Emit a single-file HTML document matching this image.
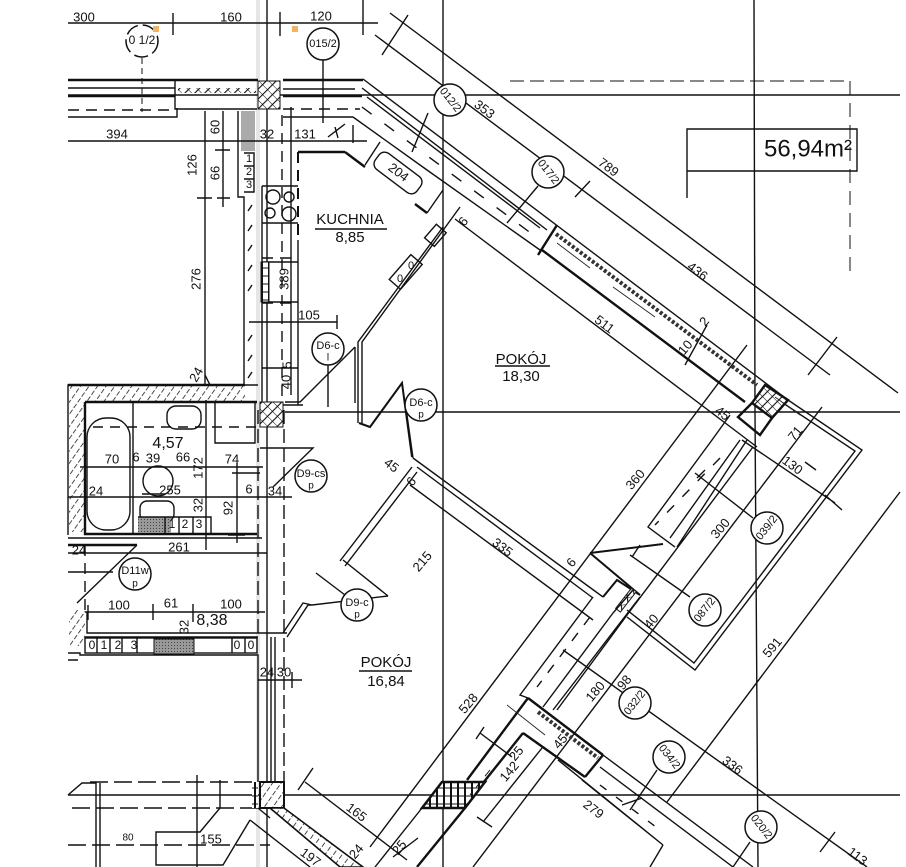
<!DOCTYPE html>
<html><head><meta charset="utf-8"><style>
html,body{margin:0;padding:0;background:#fff}
svg{display:block}
text{font-family:"Liberation Sans",sans-serif;font-size:13px;fill:#111;text-anchor:middle;dominant-baseline:middle}
.l{fill:none;stroke:#111;stroke-width:1.4}
.t{fill:none;stroke:#111;stroke-width:2.4}
.f{fill:none;stroke:#222;stroke-width:.9}
.d{fill:none;stroke:#111;stroke-width:1.4;stroke-dasharray:11 7}
.c{fill:#fff;stroke:#111;stroke-width:1.5}
</style></head><body>
<svg width="906" height="867" viewBox="0 0 906 867" xmlns="http://www.w3.org/2000/svg">
<defs>
<pattern id="h" width="7" height="7" patternUnits="userSpaceOnUse" patternTransform="rotate(35)"><rect width="7" height="7" fill="#fff"/><line x1="0" y1="0" x2="0" y2="7" stroke="#111" stroke-width="1.5" stroke-dasharray="5 2"/></pattern>
<pattern id="x" width="7" height="7" patternUnits="userSpaceOnUse" patternTransform="rotate(45)"><rect width="7" height="7" fill="#fff"/><line x1="0" y1="0" x2="0" y2="7" stroke="#111" stroke-width="2.2"/><line x1="0" y1="0" x2="7" y2="0" stroke="#111" stroke-width="1"/></pattern>
<pattern id="v" width="7" height="8" patternUnits="userSpaceOnUse"><rect width="7" height="8" fill="#fff"/><line x1="3" y1="0" x2="3" y2="8" stroke="#111" stroke-width="2"/><line x1="0" y1="4" x2="7" y2="4" stroke="#111" stroke-width="1"/></pattern>
<pattern id="g" width="3" height="3" patternUnits="userSpaceOnUse"><rect width="3" height="3" fill="#999"/><rect width="1" height="1" fill="#444"/></pattern>
</defs>
<rect width="906" height="867" fill="#fff"/>
<!-- scan seam -->
<rect x="256" y="0" width="4" height="867" fill="#e6e6e6"/>
<!-- axes -->
<path class="l" d="M267 0V867M443 0V867M754 0L755 412L758 867M68 95H900M285 412H900M68 795H260M284 795H900"/>
<path class="l" d="M510 81H850" style="stroke-dasharray:14 6;stroke-width:1"/>
<path class="d" d="M850 81V272" style="stroke-width:1;stroke-dasharray:14 8"/>
<!-- area box -->
<path class="l" d="M687 198V129H857V171H687"/>
<text x="808" y="150" style="font-size:24px">56,94m²</text>
<!-- top dims -->
<path class="l" d="M68 23H378M173 13V35M280 12V36M363 0V35"/>
<path class="l" d="M390 13L898 393M375 35L830 375M408 15L382 55M837 337L808 375M590 181L575 197"/>
<path class="l" d="M455 219L757 447M742 440L835 503M805 462L816 470M822 407L473 867M747 345L370 847M900 492L667 802M563 650L867 867M820 852L835 832M825 495L842 510"/>
<!-- top-left wall -->
<path class="t" d="M68 80H258M283 80H363"/>
<path class="l" d="M68 88H175M68 117H177V108M175 80V109H257M283 89H355M283 117H353"/>
<path class="t" d="M68 96H175M283 96H362"/>
<path class="d" d="M68 110H175M283 109H360"/>
<rect x="178" y="88" width="78" height="5" fill="url(#x)"/>
<path class="d" d="M142 58V112" style="stroke-dasharray:6 4;stroke-width:1"/>
<rect x="258" y="81" width="22" height="28" fill="url(#x)" stroke="#111"/>
<!-- diagonal upper wall -->
<path class="l" d="M363 79L788 400M362 88L547 230M367 97L540 228M353 117L427 170L540 250"/>
<path class="d" d="M362 107L540 240" style="stroke-dasharray:12 16"/>
<path class="t" d="M345 152H298M345 152L365 167M415 204L427 213M557 225L538 255M542 250L745 402"/>
<path class="d" d="M298 152V240" style="stroke-width:2"/>
<path class="l" d="M298 240V405"/>
<path d="M556 234L757 385" fill="none" stroke="#333" stroke-width="4" stroke-dasharray="3 2"/>
<path class="f" d="M557 243L590 268M613 287L655 317"/>
<path class="l" d="M380 142L365 165M443 190L427 213"/>
<rect x="372" y="163" width="52" height="20" rx="7" transform="rotate(37 398 173)" class="l"/>
<text x="398" y="173" transform="rotate(37 398 173)">204</text>
<!-- shaft -->
<polygon points="765,385 788,400 772,418 752,403" fill="url(#x)" stroke="#111" stroke-width="2.4"/>
<path class="t" d="M752 403L738 417L760 435L772 418"/>
<!-- vertical wall/kitchen -->
<path class="l" d="M205 111V385M238 111V197H244V385M245 385H68V535M245 385H258"/>
<rect x="241" y="111" width="14" height="40" fill="#aaa"/>
<path class="l" d="M244 153H254V192H244M244 166H254M244 179H254M262 186H298M262 223H298M262 186V405M291 107V395M262 262H298M262 302H298M262 368H298M262 405H303"/>
<path class="d" d="M282 115V405M262 258H298M262 303H298" />
<text x="249" y="159" style="font-size:11px">1</text><text x="249" y="172" style="font-size:11px">2</text><text x="249" y="185" style="font-size:11px">3</text>
<circle cx="273" cy="197" r="7" class="l"/><circle cx="289" cy="197" r="5" class="l"/><circle cx="270" cy="213" r="5" class="l"/><circle cx="289" cy="214" r="7" class="l"/>
<path d="M261 262h8v40h-8z" fill="url(#v)" stroke="#111"/>
<path d="M252 205l-4 6M252 225l-4 6M252 245l-4 6M252 265l-4 6M252 285l-4 6M252 335l-4 6M252 355l-4 6M252 372l-4 6" class="l"/>
<path class="l" d="M68 141H367M223 111V207M215 150H230M197 198H212M217 198H230M249 322H337M337 315V329M335 127L338 138M328 137L345 124M353 125V143M205 375L210 385"/>
<!-- partition kitchen / room -->
<path class="l" d="M460 207L362 342V423M443 227L358 342V423M355 347L300 402H285M355 347V403"/>
<path class="l" style="stroke-width:2" d="M359 423L370 427L402 383L412 457"/>
<rect x="389" y="265" width="33" height="15" class="l" transform="rotate(-49 405 272)" fill="#fff"/>
<text x="400" y="279" style="font-size:11px">0</text><text x="411" y="266" style="font-size:11px">0</text>
<rect x="426" y="229" width="18" height="13" class="l" transform="rotate(-49 435 235)" fill="#fff"/>
<!-- columns -->
<rect x="260" y="402" width="23" height="25" fill="url(#x)" stroke="#111"/>
<rect x="260" y="782" width="24" height="26" fill="url(#h)" stroke="#111" stroke-width="2"/>
<!-- bath -->
<rect x="69" y="385" width="176" height="17" fill="url(#h)"/>
<rect x="69" y="402" width="16" height="130" fill="url(#h)"/>
<path class="t" d="M68 385H245M85 402H257M85 402V534H257"/>
<path class="l" d="M133 402V534M206 400V550M215 403V443H255V403"/>
<rect x="87" y="418" width="43" height="112" rx="19" class="l"/>
<path class="d" d="M93 427H258" style="stroke-dasharray:10 7"/>
<rect x="167" y="406" width="34" height="23" rx="9" class="l"/>
<circle cx="158" cy="481" r="15" class="l"/>
<rect x="140" y="501" width="34" height="20" rx="7" class="l"/>
<rect x="138" y="517" width="33" height="16" fill="url(#g)"/>
<path class="l" d="M138 517H211V534M165 517V534M179 517V534M193 517V534M80 467H263M68 497H292M232 473H260M237 463V543M228 535H245M142 494H165"/>
<text x="172" y="525" style="font-size:12px">1</text><text x="185" y="525" style="font-size:12px">2</text><text x="199" y="525" style="font-size:12px">3</text>
<path class="l" d="M260 448H313L273 487"/>
<!-- corridor -->
<path class="l" d="M68 538H262"/>
<path class="t" d="M68 545H137"/>
<path class="l" d="M68 553H267M137 545L77 603M68 572H113M85 612H265M88 605V620M153 604V620M193 604V622M87 612V633H287M85 637H258M287 637L308 605H312M283 633L303 603L312 605"/>
<path class="d" d="M85 545V612"/>
<rect x="69" y="610" width="16" height="36" fill="url(#h)"/>
<rect x="85" y="638" width="172" height="15" class="l"/>
<path class="l" d="M97 638V653M110 638V653M122 638V653M137 638V653M232 638V653M245 638V653"/>
<rect x="154" y="639" width="40" height="15" fill="url(#g)" stroke="#111"/>
<text x="92" y="646" style="font-size:12px">0</text><text x="104" y="646" style="font-size:12px">1</text><text x="118" y="646" style="font-size:12px">2</text><text x="134" y="646" style="font-size:12px">3</text><text x="237" y="646" style="font-size:12px">0</text><text x="251" y="646" style="font-size:12px">0</text>
<path class="l" d="M68 653H80V655H258V782M68 660H78"/>
<!-- room left vertical walls -->
<path class="d" d="M258 410V635M284 410V782" style="stroke-dasharray:14 5"/>
<path class="l" d="M271 637V782M275 637V782M258 680H302M292 672V688"/>
<!-- lower left -->
<path class="d" d="M90 782H258M72 808H258M68 845H270" style="stroke-dasharray:18 6"/>
<path class="l" d="M68 795L82 783H96V867M100 783V867M197 775V867M220 780V808L200 832H156V865H223L250 820"/>
<rect x="252" y="782" width="6" height="26" fill="url(#v)"/>
<!-- lower left diagonal wall -->
<polygon points="270,808 284,808 363,867 340,867" fill="url(#h)" stroke="#111" stroke-width="1.6"/>
<path class="l" d="M250 820L310 867M258 808L270 818M305 782L407 860M298 790L313 768M393 857L418 838"/>
<!-- balcony / middle partition -->
<path class="l" d="M413 458L603 597M417 467L593 598M410 485L593 620M413 458L406 408M340 561L412 467M345 566L417 472M343 560L388 596M312 605L388 596M316 573L345 595"/>
<path class="l" d="M788 400L862 450L695 670L627 617M783 403L855 451L694 663L627 610"/>
<!-- upper right wall segment -->
<path class="l" d="M730 415L712 440L648 527L675 547M740 440L670 538M747 440L677 547M753 447L633 607L557 710"/>
<path class="d" d="M720 458L655 525" style="stroke-dasharray:10 12"/>
<path class="l" d="M695 473L753 518M705 470L697 478M630 555L690 597M640 545L632 557"/>
<path class="l" style="stroke-width:2" d="M590 553L663 544M590 553L640 595M603 597L617 580L640 595"/>
<rect x="613" y="597" width="26" height="6" fill="url(#x)" transform="rotate(-52 626 600)" stroke="#111"/>
<path class="l" d="M593 597L520 695L528 698M613 613L543 707M640 597L553 710M633 590L613 613"/>
<path class="d" d="M590 617L537 687" style="stroke-dasharray:10 10"/>
<!-- lower right wall -->
<path class="t" d="M528 698L603 755M523 733L585 777M585 777L603 755M528 698L467 780M523 733L483 783M465 808L417 867"/>
<path class="l" d="M422 808L375 867M582 780L663 845M600 767L733 867M603 755L753 867M663 845L650 867M558 760L663 845M480 733L512 757M484 727L476 739M542 748L483 822M477 817L492 827"/>
<path d="M538 712L598 758" fill="none" stroke="#333" stroke-width="4" stroke-dasharray="3 2"/>
<polygon points="442,782 485,782 465,808 422,808" fill="url(#v)" stroke="#111" stroke-width="2.5"/>
<path class="d" d="M600 785L660 830" style="stroke-dasharray:8 12"/>
<path class="d" d="M490 770L470 795" style="stroke-dasharray:8 6;stroke-width:1"/>
<path class="f" d="M507 705L545 735M775 397L800 415"/>
<path class="l" d="M707 325L685 365"/>
<!-- leader lines -->
<path class="l" d="M323 60V123M428 113L412 152M538 186L507 223M328 365V407M657 770L630 810M622 805L642 798M750 842L733 867"/>
<!-- circles -->
<circle cx="142" cy="41" r="16" class="c" stroke-dasharray="14 5"/><text x="142" y="41" style="font-size:12px">0 1/2</text>
<circle cx="323" cy="44" r="16" class="c"/><text x="323" y="44" style="font-size:11px">015/2</text>
<circle cx="450" cy="100" r="16" class="c"/><text x="450" y="100" style="font-size:11px" transform="rotate(52 450 100)">012/2</text>
<circle cx="548" cy="172" r="16" class="c"/><text x="548" y="172" style="font-size:11px" transform="rotate(52 548 172)">017/2</text>
<circle cx="328" cy="349" r="16" class="c"/><text x="328" y="346" style="font-size:11px">D6-c</text><text x="328" y="358" style="font-size:10px">l</text>
<circle cx="421" cy="405" r="16" class="c"/><text x="421" y="403" style="font-size:11px">D6-c</text><text x="421" y="415" style="font-size:10px">p</text>
<circle cx="311" cy="476" r="16" class="c"/><text x="311" y="474" style="font-size:11px">D9-cs</text><text x="311" y="486" style="font-size:10px">p</text>
<circle cx="135" cy="574" r="16" class="c"/><text x="135" y="571" style="font-size:11px">D11w</text><text x="135" y="584" style="font-size:10px">p</text>
<circle cx="357" cy="605" r="16" class="c"/><text x="357" y="603" style="font-size:11px">D9-c</text><text x="357" y="615" style="font-size:10px">p</text>
<circle cx="767" cy="528" r="16" class="c"/><text x="767" y="528" style="font-size:11px" transform="rotate(-52 767 528)">039/2</text>
<circle cx="705" cy="610" r="16" class="c"/><text x="705" y="610" style="font-size:11px" transform="rotate(-52 705 610)">087/2</text>
<circle cx="635" cy="703" r="16" class="c"/><text x="635" y="703" style="font-size:11px" transform="rotate(-52 635 703)">032/2</text>
<circle cx="669" cy="757" r="16" class="c"/><text x="669" y="757" style="font-size:11px" transform="rotate(52 669 757)">034/2</text>
<circle cx="761" cy="827" r="16" class="c"/><text x="761" y="827" style="font-size:11px" transform="rotate(52 761 827)">020/2</text>
<!-- room labels -->
<text x="350" y="220" style="font-size:15px">KUCHNIA</text><path class="l" d="M315 229H387"/>
<text x="350" y="238" style="font-size:15px">8,85</text>
<text x="521" y="360" style="font-size:15px">POKÓJ</text><path class="l" d="M495 366H550"/>
<text x="521" y="377" style="font-size:15px">18,30</text>
<text x="386" y="663" style="font-size:15px">POKÓJ</text><path class="l" d="M359 671H412"/>
<text x="386" y="682" style="font-size:15px">16,84</text>
<text x="168" y="444" style="font-size:16px">4,57</text>
<text x="212" y="621" style="font-size:16px">8,38</text>
<!-- dims -->
<text x="84" y="18">300</text><text x="231" y="18">160</text><text x="321" y="17">120</text><text x="117" y="135">394</text>
<text x="216" y="127" transform="rotate(-90 216 127)">60</text><text x="193" y="165" transform="rotate(-90 193 165)">126</text><text x="216" y="173" transform="rotate(-90 216 173)">66</text>
<text x="267" y="135">32</text><text x="305" y="135">131</text><text x="197" y="279" transform="rotate(-90 197 279)">276</text><text x="285" y="279" transform="rotate(-90 285 279)">389</text><text x="309" y="316">105</text>
<text x="197" y="375" transform="rotate(-60 197 375)">24</text><text x="287" y="382" transform="rotate(-90 287 382)">40</text><text x="288" y="365" transform="rotate(-90 288 365)">5</text>
<text x="112" y="460">70</text><text x="136" y="458">6</text><text x="153" y="459">39</text><text x="183" y="458">66</text><text x="199" y="468" transform="rotate(-90 199 468)">172</text><text x="232" y="460">74</text>
<text x="96" y="492">24</text><text x="170" y="491">255</text><text x="249" y="490">6</text><text x="229" y="508" transform="rotate(-90 229 508)">92</text><text x="199" y="505" transform="rotate(-90 199 505)">32</text><text x="275" y="492">34</text>
<text x="179" y="548">261</text><text x="79" y="551">24</text><text x="119" y="606">100</text><text x="171" y="604">61</text><text x="231" y="605">100</text><text x="185" y="627" transform="rotate(-90 185 627)">32</text>
<text x="267" y="673">24</text><text x="284" y="673">30</text><text x="211" y="840">155</text><text x="128" y="838" style="font-size:10px">80</text>
<text x="356" y="813" transform="rotate(37 356 813)">165</text><text x="310" y="858" transform="rotate(37 310 858)">197</text><text x="357" y="852" transform="rotate(-50 357 852)">24</text><text x="400" y="848" transform="rotate(-50 400 848)">25</text>
<text x="391" y="466" transform="rotate(37 391 466)">45</text><text x="412" y="482" transform="rotate(-50 412 482)">6</text><text x="423" y="562" transform="rotate(-50 423 562)">215</text>
<text x="502" y="548" transform="rotate(37 502 548)">335</text><text x="572" y="563" transform="rotate(-50 572 563)">6</text><text x="636" y="480" transform="rotate(-50 636 480)">360</text><text x="721" y="529" transform="rotate(-50 721 529)">300</text>
<text x="792" y="466" transform="rotate(37 792 466)">130</text><text x="796" y="434" transform="rotate(-50 796 434)">71</text><text x="722" y="414" transform="rotate(37 722 414)">45</text>
<text x="604" y="325" transform="rotate(37 604 325)">511</text><text x="484" y="110" transform="rotate(37 484 110)">353</text><text x="608" y="168" transform="rotate(37 608 168)">789</text><text x="697" y="272" transform="rotate(37 697 272)">436</text>
<text x="464" y="222" transform="rotate(-50 464 222)">6</text><text x="705" y="322" transform="rotate(-50 705 322)">2</text><text x="686" y="348" transform="rotate(-50 686 348)">10</text>
<text x="652" y="622" transform="rotate(-50 652 622)">40</text><text x="596" y="692" transform="rotate(-50 596 692)">180</text><text x="625" y="683" transform="rotate(-50 625 683)">98</text>
<text x="469" y="704" transform="rotate(-50 469 704)">528</text><text x="510" y="772" transform="rotate(-50 510 772)">142</text><text x="517" y="754" transform="rotate(-50 517 754)">25</text><text x="561" y="742" transform="rotate(-50 561 742)">45</text>
<text x="773" y="648" transform="rotate(-50 773 648)">591</text><text x="732" y="766" transform="rotate(37 732 766)">336</text><text x="593" y="810" transform="rotate(37 593 810)">279</text><text x="857" y="857" transform="rotate(37 857 857)">113</text>
<!-- orange marks -->
<rect x="153" y="26" width="6" height="6" fill="#f3b45f"/><rect x="292" y="26" width="6" height="6" fill="#f3b45f"/>
</svg>
</body></html>
